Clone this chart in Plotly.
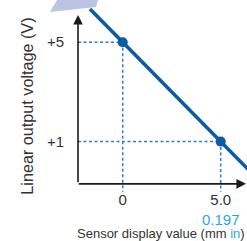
import plotly.graph_objects as go

# ---- data ----
line_x = [-1.67, 6.6]          # sensor display value (mm) along the output line
line_v = [6.34, -0.28]         # linear output voltage (V)
pts_x = [0.0, 5.0]
pts_v = [5.0, 1.0]
x_tickvals = [0, 5]
x_ticktext = ["0", "5.0<br><span style='color:#29a9e1'>0.197</span>"]
y_tickvals = [1, 5]
y_ticktext = ["+1", "+5"]
axis_origin = (-2.28, -0.70)
y_axis_top = 6.10
x_axis_end = 6.29
guide_bottom = -1.02

X_RANGE = [-6.26, 6.34]
Y_RANGE = [-3.0, 6.70]

MAIN = "#0b5aa8"
GUIDE = "#2f7bd0"
TEXT = "#333333"
FONT = "Liberation Sans, Arial, sans-serif"

fig = go.Figure()

# dotted guide lines
for px, pv in zip(pts_x, pts_v):
    fig.add_trace(go.Scatter(x=[axis_origin[0], px], y=[pv, pv], mode="lines",
                             line=dict(color=GUIDE, width=1.5, dash="3px,2.5px"),
                             hoverinfo="skip", showlegend=False))
    fig.add_trace(go.Scatter(x=[px, px], y=[pv, guide_bottom], mode="lines",
                             line=dict(color=GUIDE, width=1.5, dash="3px,2.5px"),
                             hoverinfo="skip", showlegend=False))

# main output line
fig.add_trace(go.Scatter(x=line_x, y=line_v, mode="lines",
                         line=dict(color=MAIN, width=3.6), showlegend=False))
# points
fig.add_trace(go.Scatter(x=pts_x, y=pts_v, mode="markers",
                         marker=dict(color=MAIN, size=10), showlegend=False))

# axes arrows
fig.add_annotation(x=axis_origin[0], y=y_axis_top, ax=axis_origin[0], ay=axis_origin[1],
                   xref="x", yref="y", axref="x", ayref="y", text="", showarrow=True,
                   arrowhead=2, arrowsize=1.2, arrowwidth=1.6, arrowcolor="#1a1a1a")
fig.add_annotation(x=x_axis_end, y=axis_origin[1], ax=axis_origin[0] - 0.04, ay=axis_origin[1],
                   xref="x", yref="y", axref="x", ayref="y", text="", showarrow=True,
                   arrowhead=2, arrowsize=1.2, arrowwidth=1.6, arrowcolor="#1a1a1a")

# decorative sensor head (cut off at top)
fig.add_shape(type="path", xref="paper", yref="paper",
              path="M 0.231 1.0 L 0.397 1.0 L 0.389 0.971 L 0.202 0.950 Z",
              fillcolor="#bcc3e3", line=dict(width=0), layer="below")

# titles
fig.add_annotation(text="Linear output voltage (V)", textangle=-90, x=0.108, y=0.56,
                   xref="paper", yref="paper", showarrow=False,
                   font=dict(family=FONT, size=16.2, color=TEXT), xanchor="center", yanchor="middle")
fig.add_annotation(text="Sensor display value (mm <span style='color:#29a9e1'>in</span>)",
                   x=0.650, y=0.033, xref="paper", yref="paper", showarrow=False,
                   font=dict(family=FONT, size=13, color=TEXT), xanchor="center", yanchor="middle")

fig.update_layout(
    width=247, height=241, margin=dict(l=0, r=0, t=0, b=0),
    paper_bgcolor="white", plot_bgcolor="white",
    xaxis=dict(range=X_RANGE, domain=[0, 1], anchor="free", position=57 / 241,
               showgrid=False, zeroline=False, showline=False,
               tickvals=x_tickvals, ticktext=x_ticktext, ticks="outside", ticklen=2,
               tickcolor="rgba(0,0,0,0)", tickfont=dict(family=FONT, size=15, color=TEXT)),
    yaxis=dict(range=Y_RANGE, domain=[0, 1], anchor="free", position=78 / 247,
               showgrid=False, zeroline=False, showline=False,
               tickvals=y_tickvals, ticktext=y_ticktext, ticks="outside", ticklen=11,
               tickcolor="rgba(0,0,0,0)", tickfont=dict(family=FONT, size=15, color=TEXT)),
    showlegend=False,
)

fig.write_html("out.html", config={"displayModeBar": False},
               post_script="document.body.style.margin='0';document.body.style.padding='0';"
                           "document.body.style.overflow='hidden';")
